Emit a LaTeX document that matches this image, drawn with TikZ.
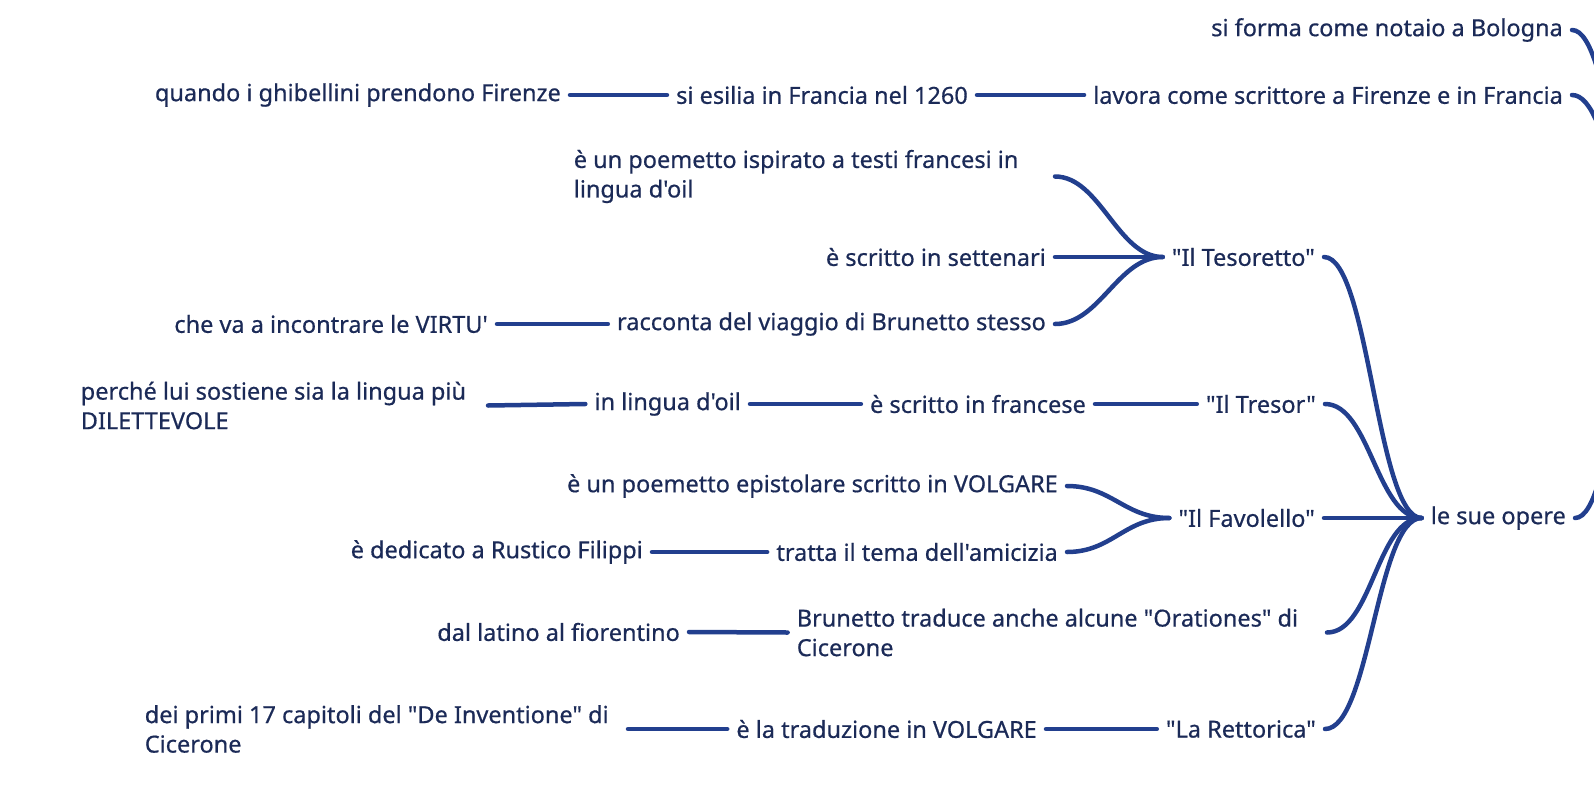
\documentclass[tikz,border=0pt]{standalone}
\usepackage{fontspec}
\setmainfont{Noto Sans}[Ligatures=TeXOff, FakeBold=0.6]
\definecolor{txtc}{HTML}{1B2A57}
\definecolor{linec}{HTML}{223F8E}
\begin{document}
\begin{tikzpicture}[x=1pt,y=-1pt,
  t/.style={inner xsep=9pt, inner ysep=2pt, text=txtc, font=\fontsize{23.5}{29.5}\selectfont, anchor=east, align=flush left},
  link/.style={draw=linec, line width=4.5pt, line cap=round}]
\useasboundingbox (0,0) rectangle (1594,800);
\clip (0,0) rectangle (1594,800);
% top
\node[t] (n1) at (1572,30) {si forma come notaio a Bologna};
\node[t] (nLav) at (1572,95) {lavora come scrittore a Firenze e in Francia};
\node[t] (nEsi) at (977,95) {si esilia in Francia nel 1260};
\node[t] (nQua) at (570,95) {quando i ghibellini prendono Firenze};
% root and opere
\coordinate (root) at (1660,270);
\node[t] (nOpe) at (1575,518) {le sue opere};
% Tesoretto
\node[t] (nTes) at (1324,257) {"Il Tesoretto"};
\node[t, text width=472pt] (nPoe) at (1055,176.5) {è un poemetto ispirato a testi francesi in\\lingua d'oil};
\node[t] (nSet) at (1055,257) {è scritto in settenari};
\node[t] (nRac) at (1055,324) {racconta del viaggio di Brunetto stesso};
\node[t] (nChe) at (497,324) {che va a incontrare le VIRTU'};
% Tresor
\node[t] (nTre) at (1325,404) {"Il Tresor"};
\node[t] (nFra) at (1095,404) {è scritto in francese};
\node[t] (nLin) at (750,404) {in lingua d'oil};
\node[t, text width=398pt] (nPer) at (488,405.5) {perché lui sostiene sia la lingua più\\DILETTEVOLE};
% Favolello
\node[t] (nFav) at (1324,518) {"Il Favolello"};
\node[t] (nEpi) at (1067,486) {è un poemetto epistolare scritto in VOLGARE};
\node[t] (nAmi) at (1067,552) {tratta il tema dell'amicizia};
\node[t] (nRus) at (652,552) {è dedicato a Rustico Filippi};
% Orationes
\node[t, text width=521pt] (nOra) at (1327,632.5) {Brunetto traduce anche alcune "Orationes" di\\Cicerone};
\node[t] (nDal) at (689,632) {dal latino al fiorentino};
% Rettorica
\node[t] (nRet) at (1325,729) {"La Rettorica"};
\node[t] (nTra) at (1046,729) {è la traduzione in VOLGARE};
\node[t, text width=474pt] (nDei) at (628,729) {dei primi 17 capitoli del "De Inventione" di\\Cicerone};
% connectors
\draw[link] (nQua.east) -- (nEsi.west);
\draw[link] (nEsi.east) -- (nLav.west);
\draw[link] (n1.east) .. controls +(40,0) and +(-40,0) .. (root);
\draw[link] (nLav.east) .. controls +(40,0) and +(-40,0) .. (root);
\draw[link] (nOpe.east) .. controls +(40,0) and +(-40,0) .. (root);
\foreach \c in {nTes,nTre,nFav,nOra,nRet}
  \draw[link] (\c.east) .. controls +(45,0) and +(-45,0) .. (nOpe.west);
\foreach \c in {nPoe,nSet,nRac}
  \draw[link] (\c.east) .. controls +(45,0) and +(-45,0) .. (nTes.west);
\draw[link] (nChe.east) -- (nRac.west);
\draw[link] (nFra.east) -- (nTre.west);
\draw[link] (nLin.east) -- (nFra.west);
\draw[link] (nPer.east) -- (nLin.west);
\foreach \c in {nEpi,nAmi}
  \draw[link] (\c.east) .. controls +(45,0) and +(-45,0) .. (nFav.west);
\draw[link] (nRus.east) -- (nAmi.west);
\draw[link] (nDal.east) -- (nOra.west);
\draw[link] (nTra.east) -- (nRet.west);
\draw[link] (nDei.east) -- (nTra.west);
\end{tikzpicture}
\end{document}
